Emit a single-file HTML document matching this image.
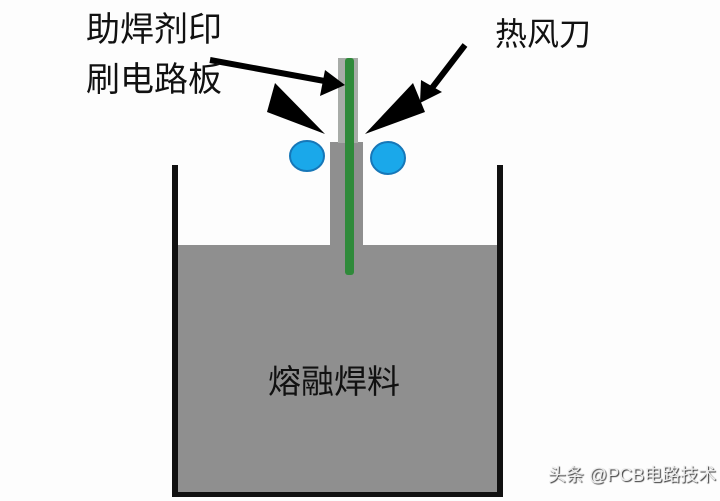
<!DOCTYPE html>
<html><head><meta charset="utf-8"><style>
body{margin:0;width:720px;height:501px;background:#fdfdfd;overflow:hidden;position:relative;font-family:"Liberation Sans","Noto Sans CJK SC",sans-serif}
.t{position:absolute;font-size:34px;line-height:40px;color:#111;white-space:nowrap}
</style></head><body>
<svg width="720" height="501" style="position:absolute;left:0;top:0">
<rect x="177" y="245" width="321" height="250" fill="#8f8f8f"/>
<rect x="330" y="142" width="33" height="104" fill="#8f8f8f"/>
<rect x="338" y="58" width="20" height="85" fill="#a8aca8"/>
<rect x="345" y="58" width="9" height="217" fill="#2f8a3a" rx="3"/>
<rect x="172" y="165" width="6" height="332" fill="#111"/>
<rect x="497" y="165" width="6" height="332" fill="#111"/>
<rect x="172" y="492" width="331" height="5" fill="#111"/>
<ellipse cx="307" cy="156" rx="17" ry="15" fill="#1aa8ea" stroke="#1677b8" stroke-width="2"/>
<ellipse cx="388" cy="158" rx="17" ry="16" fill="#1aa8ea" stroke="#1677b8" stroke-width="2"/>
<polygon points="267,112 275,83 325,134" fill="#000"/>
<polygon points="365,134 413,83 425,112" fill="#000"/>
<line x1="210" y1="60" x2="330" y2="82" stroke="#000" stroke-width="6"/>
<polygon points="345,85 325,70 320,96" fill="#000"/>
<line x1="465" y1="45" x2="432" y2="88" stroke="#000" stroke-width="6"/>
<polygon points="420,103 421,80 442,92" fill="#000"/>
</svg>
<div class="t" style="left:86px;top:10px">助焊剂印</div>
<div class="t" style="left:86px;top:60px">刷电路板</div>
<div class="t" style="left:495px;top:14px;font-size:32px">热风刀</div>
<div class="t" style="left:268px;top:362px;font-size:33px">熔融焊料</div>
<div class="t" style="left:548px;top:455px;font-size:18px;color:#eee;text-shadow:1px 1px 1px #333">头条 @PCB电路技术</div>
</body></html>
